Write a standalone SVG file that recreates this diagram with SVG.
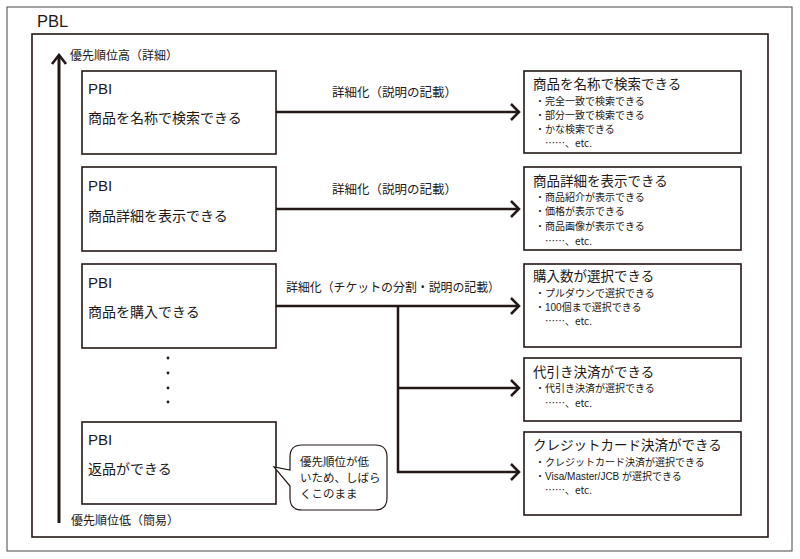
<svg xmlns="http://www.w3.org/2000/svg" width="800" height="559" viewBox="0 0 800 559">
<defs>
<style>
.t{font-family:"Liberation Sans","Noto Sans CJK JP",sans-serif;fill:#231815}
.j{font-family:"Noto Sans CJK JP",sans-serif}
.box{fill:#fff;stroke:#231815;stroke-width:1.6}
.conn{fill:none;stroke:#231815;stroke-width:2.5}
.pbi{font-size:15px}
.lt{font-size:14px}
.rt{font-size:13.5px}
.bl{font-size:10px}
.lab{font-size:12.5px}
</style>
<marker id="chev" viewBox="-12 -10 14 20" markerWidth="14" markerHeight="20" refX="0" refY="0" orient="auto" markerUnits="userSpaceOnUse">
<path d="M-8,-8 L0,0 L-8,8" fill="none" stroke="#231815" stroke-width="2.5"/>
</marker>
<marker id="chevUp" viewBox="-12 -10 14 20" markerWidth="14" markerHeight="20" refX="0" refY="0" orient="auto" markerUnits="userSpaceOnUse">
<path d="M-9,-7 L0,0 L-9,7" fill="none" stroke="#231815" stroke-width="2.6"/>
</marker>
</defs>
<rect width="800" height="559" fill="#fff"/>
<g id="frame">
<rect x="7" y="7" width="785" height="544" fill="none" stroke="#444" stroke-width="1"/>
<text class="t" x="37" y="27" style="font-size:16.5px">PBL</text>
<rect x="32" y="34" width="736" height="503" fill="none" stroke="#231815" stroke-width="1.6"/>
</g>
<g id="axis">
<line x1="59" y1="523" x2="59" y2="55" stroke="#231815" stroke-width="3" marker-end="url(#chevUp)"/>
<text class="t" x="70" y="60" style="font-size:12px">優先順位高（詳細）</text>
<text class="t" x="71" y="525" style="font-size:12px">優先順位低（簡易）</text>
</g>
<g id="connectors">
<line class="conn" x1="276" y1="112" x2="519" y2="112" marker-end="url(#chev)"/>
<line class="conn" x1="276" y1="209" x2="519" y2="209" marker-end="url(#chev)"/>
<line class="conn" x1="276" y1="306" x2="519" y2="306" marker-end="url(#chev)"/>
<polyline class="conn" points="398,306 398,472 519,472" marker-end="url(#chev)"/>
<line class="conn" x1="398" y1="388" x2="519" y2="388" marker-end="url(#chev)"/>
<text class="t lab" x="332" y="97">詳細化（説明の記載）</text>
<text class="t lab" x="332" y="194">詳細化（説明の記載）</text>
<text class="t lab" x="286" y="292" textLength="214" lengthAdjust="spacingAndGlyphs">詳細化（チケットの分割・説明の記載）</text>
</g>
<g id="pbi1">
<rect class="box" x="82" y="71" width="194" height="83"/>
<text class="t pbi" x="88" y="94">PBI</text>
<text class="t lt" x="88" y="123">商品を名称で検索できる</text>
</g>
<g id="pbi2">
<rect class="box" x="82" y="167" width="194" height="84"/>
<text class="t pbi" x="88" y="191">PBI</text>
<text class="t lt" x="88" y="221">商品詳細を表示できる</text>
</g>
<g id="pbi3">
<rect class="box" x="82" y="264" width="194" height="84"/>
<text class="t pbi" x="88" y="288">PBI</text>
<text class="t lt" x="88" y="317">商品を購入できる</text>
</g>
<g id="ellipsis">
<circle cx="168" cy="358" r="1.4" fill="#231815"/>
<circle cx="168" cy="373" r="1.4" fill="#231815"/>
<circle cx="168" cy="388" r="1.4" fill="#231815"/>
<circle cx="168" cy="402" r="1.4" fill="#231815"/>
</g>
<g id="pbi4">
<rect class="box" x="82" y="422" width="194" height="82"/>
<text class="t pbi" x="88" y="445">PBI</text>
<text class="t lt" x="88" y="474">返品ができる</text>
</g>
<g id="note">
<path d="M302,445 H375 Q387,445 387,457 V498 Q387,510 375,510 H302 Q290,510 290,498 V486 L274,467 L290,470 V457 Q290,445 302,445 Z" fill="#fff" stroke="#231815" stroke-width="1.2"/>
<text class="t" x="300" y="466" style="font-size:11.5px">優先順位が低</text>
<text class="t" x="300" y="482" style="font-size:11.5px">いため、しばら</text>
<text class="t" x="300" y="498" style="font-size:11.5px">くこのまま</text>
</g>
<g id="detail1">
<rect class="box" x="524" y="71" width="217" height="82"/>
<text class="t rt" x="533" y="89">商品を名称で検索できる</text>
<text class="t bl" x="535" y="105">・完全一致で検索できる</text>
<text class="t bl" x="535" y="119">・部分一致で検索できる</text>
<text class="t bl" x="535" y="133">・かな検索できる</text>
<text class="t bl j" x="545" y="147">……、etc.</text>
</g>
<g id="detail2">
<rect class="box" x="524" y="167" width="217" height="83"/>
<text class="t rt" x="533" y="186">商品詳細を表示できる</text>
<text class="t bl" x="535" y="201">・商品紹介が表示できる</text>
<text class="t bl" x="535" y="215">・価格が表示できる</text>
<text class="t bl" x="535" y="230">・商品画像が表示できる</text>
<text class="t bl j" x="545" y="245">……、etc.</text>
</g>
<g id="detail3">
<rect class="box" x="524" y="264" width="217" height="83"/>
<text class="t rt" x="533" y="281">購入数が選択できる</text>
<text class="t bl" x="535" y="297">・プルダウンで選択できる</text>
<text class="t bl" x="535" y="311">・100個まで選択できる</text>
<text class="t bl j" x="545" y="325">……、etc.</text>
</g>
<g id="detail4">
<rect class="box" x="524" y="358" width="217" height="63"/>
<text class="t rt" x="533" y="377">代引き決済ができる</text>
<text class="t bl" x="535" y="392">・代引き決済が選択できる</text>
<text class="t bl j" x="545" y="407">……、etc.</text>
</g>
<g id="detail5">
<rect class="box" x="524" y="432" width="217" height="83"/>
<text class="t rt" x="533" y="450">クレジットカード決済ができる</text>
<text class="t bl" x="535" y="466">・クレジットカード決済が選択できる</text>
<text class="t bl" x="535" y="480">・Visa/Master/JCB が選択できる</text>
<text class="t bl j" x="545" y="494">……、etc.</text>
</g>
</svg>
